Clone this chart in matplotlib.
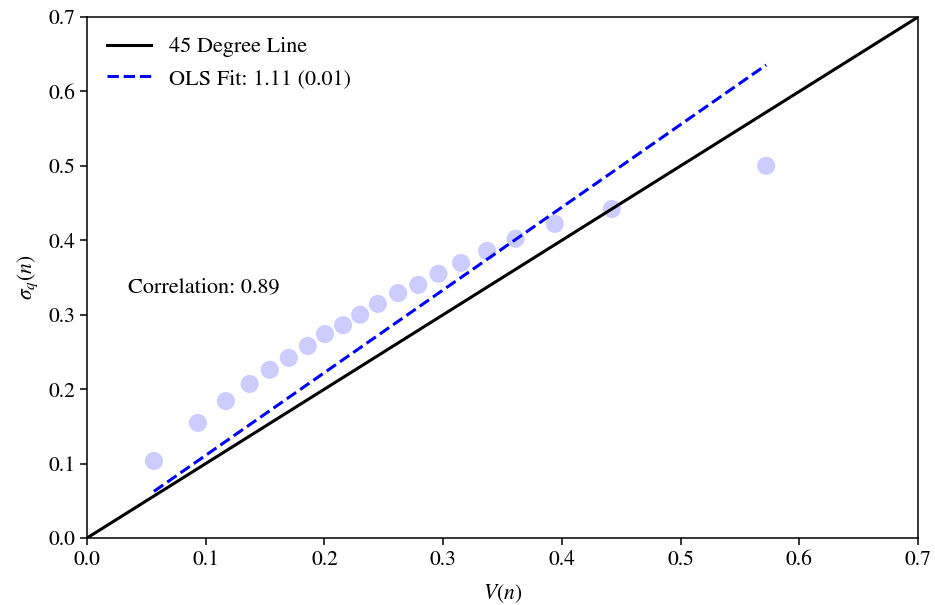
import matplotlib
matplotlib.use("Agg")
import matplotlib.pyplot as plt
import numpy as np

plt.rcParams['font.family'] = 'STIXGeneral'
plt.rcParams['mathtext.fontset'] = 'stix'

v_n = [0.0564, 0.0935, 0.117, 0.137, 0.154, 0.170, 0.186, 0.2005, 0.2157, 0.230,
       0.245, 0.262, 0.279, 0.296, 0.315, 0.337, 0.361, 0.394, 0.442, 0.572]
sigma_q = [0.1035, 0.1546, 0.184, 0.207, 0.226, 0.242, 0.258, 0.274, 0.286, 0.300,
           0.3145, 0.329, 0.340, 0.355, 0.3696, 0.3857, 0.402, 0.422, 0.442, 0.500]
ols_slope = 1.111
ols_intercept = 0.0
ols_label = "OLS Fit: 1.11 (0.01)"
corr_label = "Correlation: 0.89"

fig = plt.figure(figsize=(9.35, 6.05), dpi=100)
ax = fig.add_axes([0.093, 0.1107, 0.889, 0.8613])

ax.scatter(v_n, sigma_q, s=170, color='blue', alpha=0.2, edgecolors='none', zorder=2)
ax.plot([0, 0.7], [0, 0.7], color='black', lw=2.2, label='45 Degree Line', zorder=3)
xf = np.array([min(v_n), max(v_n)])
ax.plot(xf, ols_intercept + ols_slope * xf, color='blue', lw=2.2, ls='--', label=ols_label, zorder=3)

ax.text(0.0345, 0.337, corr_label, fontsize=16, va='center', ha='left')

ax.set_xlim(0, 0.7)
ax.set_ylim(0, 0.7)
ax.set_xticks(np.arange(0, 0.71, 0.1))
ax.set_yticks(np.arange(0, 0.71, 0.1))
ax.tick_params(labelsize=15.5, length=5, width=1.1)
for s in ax.spines.values():
    s.set_linewidth(1.1)
ax.set_xlabel(r'$V(n)$', fontsize=15.5, labelpad=9)
ax.set_ylabel(r'$\sigma_q(n)$', fontsize=15.5, labelpad=6)
ax.legend(loc='upper left', frameon=False, fontsize=16)

fig.savefig('out.png', dpi=100)
